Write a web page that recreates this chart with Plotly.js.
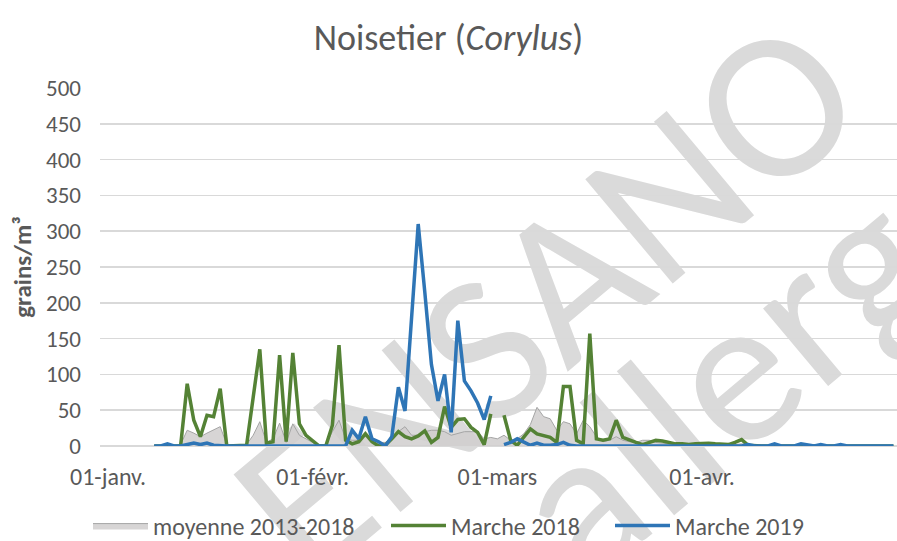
<!DOCTYPE html>
<html>
<head>
<meta charset="utf-8">
<script src="https://cdn.plot.ly/plotly-3.0.1.min.js"></script>
<style>html,body{margin:0;padding:0;background:#fff;}#chart{width:897px;height:541px;}</style>
</head>
<body>
<div id="chart"></div>
<script>
// first day of data: 8 January (daily series)
const firstDay = [2019, 0, 8];

const moyenne = [
  0,0,0,0,
  2,22,18,13,18,22,27,2,0,0,
  2,15,34,5,10,32,5,31,15,10,
  5,2,2,20,36,10,8,8,15,12,
  5,5,10,20,27,15,15,20,22,22,
  20,15,18,20,20,20,10,12,10,15,
  8,10,17,30,54,41,38,22,34,31,
  17,36,27,13,6,8,13,8,6,5,
  8,8,5,4,3,2,3,2,2,2,
  2,2,1,1,2,3,1,0,0,0,
  0,0,0,0,0,0,0,0,0,0,
  0,0,0,0,0,0,0,0,0
];

const marche2018 = [
  0,0,0,0,
  0,87,36,13,43,41,80,0,0,0,
  1,68,135,4,6,127,6,130,31,15,
  7,0,0,29,141,8,3,6,17,6,
  0,1,10,20,13,10,14,21,5,12,
  55,26,37,38,26,19,2,45,null,43,
  8,1,12,24,17,15,12,5,83,83,
  8,3,157,10,8,10,36,12,8,5,
  2,5,8,7,5,3,3,2,3,4,
  4,3,3,2,5,9,1,0,0,0,
  0,0,0,0,0,0,0,0,0,0,
  0,0,0,0,0,0,0,0,0
];

const marche2019 = [
  0,0,3,0,
  0,2,4,2,4,1,0,0,0,0,
  0,0,0,0,0,0,0,0,0,0,
  0,0,0,0,0,0,22,10,41,10,
  6,0,13,82,49,180,310,215,114,63,
  100,19,175,91,77,60,37,70,null,2,
  5,10,5,1,4,1,1,2,5,1,
  0,0,0,0,0,0,0,0,0,0,
  0,0,0,0,0,0,0,0,0,0,
  0,0,0,0,0,0,2,0,0,0,
  3,0,0,0,3,2,0,2,0,0,
  2,0,0,0,0,0,0,0,0
];

const tickDates = ['2019-01-01', '2019-02-01', '2019-03-01', '2019-04-01'];
const tickLabels = ['01-janv.', '01-févr.', '01-mars', '01-avr.'];
const seriesNames = ['moyenne 2013-2018', 'Marche 2018', 'Marche 2019'];
const watermark = ['ENSANO', 'allerg'];

function buildDates(n) {
  const out = [];
  const t0 = Date.UTC(firstDay[0], firstDay[1], firstDay[2]);
  for (let i = 0; i < n; i++) {
    out.push(new Date(t0 + i * 86400000).toISOString().slice(0, 10));
  }
  return out;
}
const days = buildDates(moyenne.length);

const FONT = 'Carlito, Lato, "Open Sans", sans-serif';
const TXT = '#595959';

const traces = [
  {
    x: days, y: moyenne, name: seriesNames[0], type: 'scatter', mode: 'lines',
    fill: 'tozeroy', fillcolor: 'rgba(208,206,206,0.85)',
    line: {color: '#a5a5a5', width: 1}, legend: 'legend'
  },
  {
    x: days, y: marche2018, name: seriesNames[1], type: 'scatter', mode: 'lines',
    connectgaps: false, line: {color: '#548235', width: 3.5}, legend: 'legend2'
  },
  {
    x: days, y: marche2019, name: seriesNames[2], type: 'scatter', mode: 'lines',
    connectgaps: false, line: {color: '#2e75b6', width: 3.5}, legend: 'legend3'
  }
];

const wmFont = {family: FONT, size: 212, color: '#dadada'};

function legendAt(px) {
  return {
    orientation: 'h', x: px / 897, xref: 'container', xanchor: 'left',
    y: 15 / 541, yref: 'container', yanchor: 'middle',
    font: {family: FONT, size: 24, color: TXT},
    bgcolor: 'rgba(0,0,0,0)', borderwidth: 0, itemwidth: 55
  };
}

const layout = {
  width: 897, height: 541,
  margin: {l: 100, r: 0, t: 88, b: 95},
  paper_bgcolor: '#ffffff', plot_bgcolor: 'rgba(0,0,0,0)',
  font: {family: FONT, color: TXT, size: 23},
  title: {
    text: 'Noisetier (<i>Corylus</i>)',
    font: {family: FONT, size: 36, color: TXT},
    x: 0.5, xref: 'container', xanchor: 'center',
    y: 1 - 37 / 541, yref: 'container', yanchor: 'middle'
  },
  xaxis: {
    type: 'date',
    range: ['2018-12-30 18:55', '2019-04-30 13:05'],
    tickmode: 'array', tickvals: tickDates, ticktext: tickLabels,
    showgrid: false, zeroline: false, showline: false,
    ticks: '', ticklabelstandoff: 14,
    tickfont: {family: FONT, size: 24, color: TXT},
    fixedrange: true
  },
  yaxis: {
    range: [0, 500], dtick: 50, tick0: 0,
    showgrid: true, gridcolor: '#d9d9d9', gridwidth: 1.5,
    zeroline: true, zerolinecolor: '#d9d9d9', zerolinewidth: 1.5,
    showline: false, ticks: '', ticklabelstandoff: 18,
    tickfont: {family: FONT, size: 23, color: TXT},
    title: {text: '<b>grains/m³</b>', font: {family: FONT, size: 25, color: TXT}, standoff: 7},
    fixedrange: true
  },
  legend: legendAt(88),
  legend2: legendAt(386),
  legend3: legendAt(610),
  shapes: [
    {
      type: 'rect', xref: 'paper', yref: 'paper',
      x0: 0.50, x1: 0.60, y0: 0.39, y1: 0.49,
      line: {width: 0}, fillcolor: 'rgba(0,0,0,0)', layer: 'below',
      label: {text: watermark[0], textangle: -40, textposition: 'middle center', font: wmFont}
    },
    {
      type: 'rect', xref: 'paper', yref: 'paper',
      x0: 0.72, x1: 0.82, y0: 0.15, y1: 0.25,
      line: {width: 0}, fillcolor: 'rgba(0,0,0,0)', layer: 'below',
      label: {text: watermark[1], textangle: -40, textposition: 'middle center', font: wmFont}
    }
  ],
  showlegend: true
};

Plotly.newPlot('chart', traces, layout, {displayModeBar: false, staticPlot: true});
</script>
</body>
</html>
